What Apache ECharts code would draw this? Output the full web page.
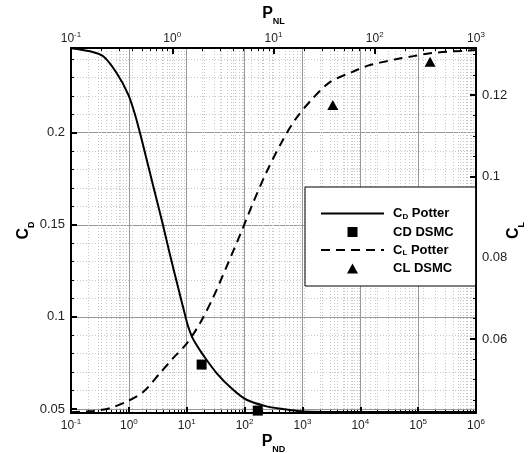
<!DOCTYPE html>
<html>
<head>
<meta charset="utf-8">
<script src="https://cdn.jsdelivr.net/npm/echarts@6/dist/echarts.min.js"></script>
<style>html,body{margin:0;padding:0;background:#fff}#main{width:532px;height:453px}</style>
</head>
<body>
<div id="main"></div>
<script>
var myChart = echarts.init(document.getElementById('main'));

// C_D Potter curve (P_ND, C_D)
var cdPotterP = [0.1, 0.213, 0.361, 0.615, 0.977, 1.28, 1.62, 2.63, 3.88, 5.13, 7.05, 8.95, 10.5, 12.3, 15.0, 19.0, 32.8, 62.8, 108, 240, 458, 902, 4430, 1e6];
var cdPotterC = [0.2459, 0.2442, 0.2415, 0.2324, 0.2207, 0.2098, 0.1978, 0.1712, 0.150, 0.1338, 0.1164, 0.1034, 0.0952, 0.0893, 0.0844, 0.0795, 0.0695, 0.0605, 0.0550, 0.0514, 0.0500, 0.0488, 0.0484, 0.0483];
// CD DSMC points
var cdDsmcP = [18.1, 169];
var cdDsmcC = [0.0741, 0.0491];
// C_L Potter curve (P_NL, C_L)
var clPotterP = [0.1, 0.166, 0.243, 0.355, 0.518, 0.757, 1.02, 1.40, 1.88, 2.52, 3.40, 4.67, 6.28, 8.43, 11.6, 16.3, 24.0, 36.1, 61.0, 84.3, 113, 166, 239, 352, 518, 745, 1000];
var clPotterC = [0.0420, 0.0423, 0.0430, 0.0446, 0.0470, 0.0516, 0.0553, 0.0590, 0.0639, 0.0701, 0.0775, 0.0856, 0.0935, 0.1008, 0.1077, 0.1139, 0.1190, 0.1232, 0.1258, 0.1272, 0.1280, 0.1289, 0.1296, 0.1303, 0.1307, 0.1309, 0.1311];
// CL DSMC points
var clDsmcP = [38.5, 352];
var clDsmcC = [0.1176, 0.1282];

// ticks
var cdTicks = [0.05, 0.1, 0.15, 0.2];
var cdMinor = [0.06, 0.07, 0.08, 0.09, 0.11, 0.12, 0.13, 0.14, 0.16, 0.17, 0.18, 0.19, 0.21, 0.22, 0.23, 0.24];
var clTicks = [0.06, 0.08, 0.1, 0.12];
var clMinor = [0.045, 0.05, 0.055, 0.065, 0.07, 0.075, 0.085, 0.09, 0.095, 0.105, 0.11, 0.115, 0.125, 0.13];

function logMinor(from, to) {
    var out = [];
    for (var k = from; k < to; k++) {
        for (var m = 2; m <= 9; m++) out.push(m * Math.pow(10, k));
    }
    return out;
}
var ndMinor = logMinor(-1, 6);
var nlMinor = logMinor(-1, 3);

function zip(a, b) {
    return a.map(function (v, i) { return [v, b[i]]; });
}

function powLabel(v) {
    return '{b|10}{e|' + Math.round(Math.log10(v)) + '}';
}

var powRich = {
    b: { fontSize: 12, lineHeight: 14, verticalAlign: 'bottom', color: '#222' },
    e: { fontSize: 8, lineHeight: 8, verticalAlign: 'top', color: '#222' }
};

var black = '#000';
var majorGrid = { show: true, lineStyle: { color: '#999', width: 1, type: 'solid' } };
var minorGrid = { show: true, lineStyle: { color: '#c8c8c8', width: 1, type: [1, 2] } };
var nameRich = {
    p: { fontSize: 16, fontWeight: 'bold', lineHeight: 20, verticalAlign: 'top', color: '#000' },
    s: { fontSize: 9, fontWeight: 'bold', lineHeight: 9, verticalAlign: 'bottom', color: '#000' }
};

function mainLog(pos, max, name, gap, margin) {
    return {
        type: 'log', position: pos, min: 0.1, max: max, logBase: 10,
        name: name, nameLocation: 'middle', nameGap: gap, nameMoveOverlap: false,
        nameTextStyle: { rich: nameRich },
        axisLine: { show: true, lineStyle: { color: black, width: 2 } },
        axisTick: { show: true, inside: true, length: 6, lineStyle: { color: black, width: 2 } },
        axisLabel: { show: true, margin: margin, formatter: powLabel, rich: powRich },
        splitLine: pos === 'bottom' ? majorGrid : minorGrid,
        minorTick: { show: false }
    };
}

function auxLog(pos, max, vals) {
    return {
        type: 'log', position: pos, min: 0.1, max: max, logBase: 10,
        axisLine: { show: false },
        axisTick: { show: true, inside: true, length: 3, customValues: vals, lineStyle: { color: black, width: 1 } },
        axisLabel: { show: false },
        splitLine: minorGrid
    };
}

function mainVal(pos, min, max, ticks, name, gap, grid) {
    return {
        type: 'value', position: pos, min: min, max: max,
        name: name, nameLocation: 'middle', nameGap: gap, nameRotate: 90, nameMoveOverlap: false,
        nameTextStyle: { rich: nameRich },
        axisLine: { show: true, lineStyle: { color: black, width: 2 } },
        axisTick: { show: true, inside: true, length: 6, customValues: ticks, lineStyle: { color: black, width: 2 } },
        axisLabel: { show: true, margin: 6, customValues: ticks, fontSize: 13, color: '#222',
            formatter: function (v) { return String(+v.toFixed(3)); } },
        splitLine: grid
    };
}

function auxVal(pos, min, max, vals, grid) {
    return {
        type: 'value', position: pos, min: min, max: max,
        axisLine: { show: false },
        axisTick: { show: true, inside: true, length: 3, customValues: vals, lineStyle: { color: black, width: 1 } },
        axisLabel: { show: false },
        splitLine: grid
    };
}

var cdMin = 0.0478, cdMax = 0.246;
var clMin = 0.0418, clMax = 0.1316;

var option = {
    animation: false,
    backgroundColor: '#fff',
    textStyle: { fontFamily: 'Liberation Sans, Arial, sans-serif' },
    grid: { left: 71, right: 56, top: 48, bottom: 40, containLabel: false, outerBoundsMode: 'none' },
    legend: {
        orient: 'vertical', left: 305, top: 187,
        itemWidth: 63, itemHeight: 10, itemGap: 5,
        padding: [20, 22, 11, 15],
        backgroundColor: '#fff', borderColor: '#000', borderWidth: 1, borderRadius: 0,
        selectedMode: false, symbolKeepAspect: true,
        data: [
            { name: 'CD Potter', itemStyle: { opacity: 0 } },
            { name: 'CD DSMC', icon: 'path://M0,0h9v9h-9z' },
            { name: 'CL Potter', itemStyle: { opacity: 0 } },
            { name: 'CL DSMC', icon: 'path://M5.5,0L11,10L0,10z' }
        ],
        formatter: function (name) {
            if (name === 'CD Potter') return '{g|}{b|C}{s|D}{b| Potter}';
            if (name === 'CL Potter') return '{g|}{b|C}{s|L}{b| Potter}';
            return '{g|}{b|' + name + '}';
        },
        textStyle: {
            color: '#000',
            rich: {
                g: { width: 4 },
                b: { fontSize: 13, fontWeight: 'bold', lineHeight: 14, color: '#000' },
                s: { fontSize: 8, fontWeight: 'bold', lineHeight: 8, verticalAlign: 'bottom', color: '#000' }
            }
        }
    },
    xAxis: [
        mainLog('bottom', 1e6, '{p|P}{s|ND}', 21, 5),
        auxLog('bottom', 1e6, ndMinor),
        mainLog('top', 1e3, '{p|P}{s|NL}', 22, 3),
        auxLog('top', 1e3, nlMinor)
    ],
    yAxis: [
        mainVal('left', cdMin, cdMax, cdTicks, '{p|C}{s|D}', 35, majorGrid),
        auxVal('left', cdMin, cdMax, cdMinor, minorGrid),
        mainVal('right', clMin, clMax, clTicks, '{p|C}{s|L}', 30, { show: false }),
        auxVal('right', clMin, clMax, clMinor, { show: false })
    ],
    series: [
        {
            name: 'CD Potter', type: 'line', xAxisIndex: 0, yAxisIndex: 0,
            data: zip(cdPotterP, cdPotterC), symbol: 'none', smooth: 0.3,
            lineStyle: { color: '#000', width: 2, type: 'solid' }, itemStyle: { color: '#000' }, z: 5
        },
        {
            name: 'CD DSMC', type: 'scatter', xAxisIndex: 0, yAxisIndex: 0,
            data: zip(cdDsmcP, cdDsmcC), symbol: 'rect', symbolSize: 10,
            itemStyle: { color: '#000', opacity: 1 }, z: 6
        },
        {
            name: 'CL Potter', type: 'line', xAxisIndex: 2, yAxisIndex: 2,
            data: zip(clPotterP, clPotterC), symbol: 'none', smooth: 0.3,
            lineStyle: { color: '#000', width: 2, type: [9, 6] }, itemStyle: { color: '#000' }, z: 5
        },
        {
            name: 'CL DSMC', type: 'scatter', xAxisIndex: 2, yAxisIndex: 2,
            data: zip(clDsmcP, clDsmcC), symbol: 'triangle', symbolSize: [11, 10],
            itemStyle: { color: '#000', opacity: 1 }, z: 6
        }
    ]
};

myChart.setOption(option);
</script>
</body>
</html>
